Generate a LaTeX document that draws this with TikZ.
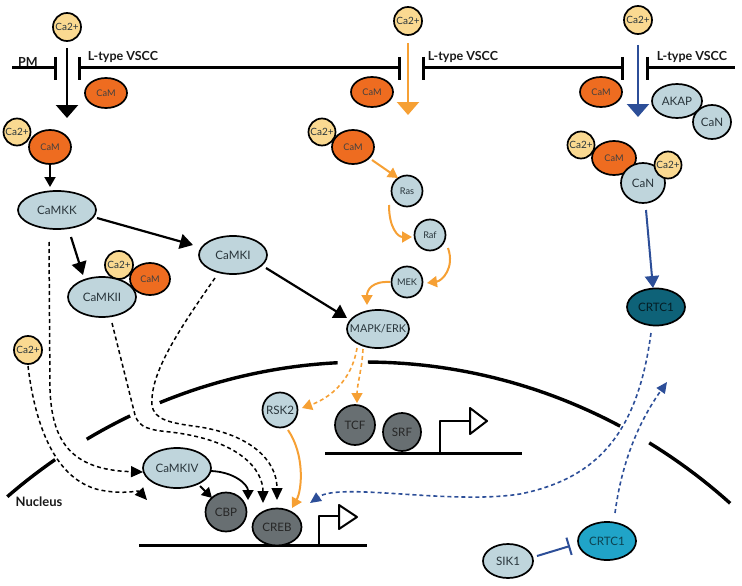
\documentclass[tikz,border=0pt]{standalone}
\usepackage{fontspec}
\setmainfont{Lato}
\usetikzlibrary{shapes.geometric,arrows.meta,calc}
\definecolor{caY}{RGB}{250,217,145}
\definecolor{camO}{RGB}{238,108,32}
\definecolor{lblue}{RGB}{191,213,220}
\definecolor{dgray}{RGB}{104,111,114}
\definecolor{crtcD}{RGB}{14,98,120}
\definecolor{crtcC}{RGB}{32,164,200}
\definecolor{orgA}{RGB}{246,160,52}
\definecolor{bluA}{RGB}{44,78,152}
\definecolor{txt}{RGB}{40,52,58}
\newcommand\zw[1]{\makebox[0pt]{#1}}
\begin{document}
\begin{tikzpicture}[x=1pt,y=-1pt,line join=round,
  base/.style={draw=black, line width=1.7pt, inner sep=0pt, outer sep=0pt, text=txt},
  ca/.style={base, circle, fill=caY, minimum size=#1, font=\fontsize{10}{12}\selectfont},
  ca/.default=28pt,
  ell/.style n args={2}{base, ellipse, minimum width=#1, minimum height=#2},
  kin/.style n args={2}{ell={#1}{#2}, fill=lblue, font=\fontsize{11.6}{13}\selectfont},
  cam/.style n args={2}{ell={#1}{#2}, fill=camO, text=black!75, font=\fontsize{9.2}{11}\selectfont},
  sml/.style={base, circle, fill=lblue, minimum size=31pt, font=\fontsize{9.2}{11}\selectfont},
  dkn/.style n args={2}{ell={#1}{#2}, fill=dgray, text=black!85, font=\fontsize{11.6}{13}\selectfont},
  lab/.style={inner sep=0pt, font=\bfseries\fontsize{12.5}{14}\selectfont, text=black!90},
  mem/.style={line width=3pt, line cap=butt},
  env/.style={line width=3.4pt, line cap=butt},
  chan/.style={line width=2.2pt, -{Triangle[width=22pt,length=13pt]}},
  blk/.style={draw=black, line width=2.2pt, -{Triangle[width=15pt,length=13pt]}},
  blks/.style={draw=black, line width=1.8pt, -{Triangle[width=11pt,length=10pt]}},
  org/.style={draw=orgA, line width=2pt, -{Triangle[width=11pt,length=10pt]}},
  orgd/.style={org, line width=1.6pt, dash pattern=on 4pt off 3pt},
  dsh/.style={draw=black, line width=1.5pt, dash pattern=on 4pt off 3pt, -{Triangle[width=11pt,length=12pt]}},
  blu/.style={draw=bluA, line width=2pt, -{Triangle[width=14pt,length=12pt]}},
  blud/.style={draw=bluA, line width=1.6pt, dash pattern=on 4pt off 3pt, -{Triangle[width=10pt,length=11pt]}}
]
\useasboundingbox (0,0) rectangle (742,586);
% plasma membrane
\draw[mem] (12,68) -- (55,68);
\draw[mem] (55,57) -- (55,80);
\draw[mem] (79,57) -- (79,80);
\draw[mem] (79,68) -- (399,68);
\draw[mem] (399,57) -- (399,80);
\draw[mem] (423,57) -- (423,80);
\draw[mem] (423,68) -- (622,68);
\draw[mem] (622,57) -- (622,80);
\draw[mem] (647,57) -- (647,80);
\draw[mem] (647,68) -- (735,68);
% nuclear envelope
\draw[env] plot[domain=129.7:123.6,samples=12] ({365+560*cos(\x)},{946-584*sin(\x)});
\draw[env] plot[domain=119.8:114.8,samples=12] ({365+560*cos(\x)},{946-584*sin(\x)});
\draw[env] plot[domain=111.5:92.8,samples=30] ({365+560*cos(\x)},{946-584*sin(\x)});
\draw[env] plot[domain=89.7:62.9,samples=30] ({365+560*cos(\x)},{946-584*sin(\x)});
\draw[env] plot[domain=59.5:49.3,samples=12] ({365+560*cos(\x)},{946-584*sin(\x)});
% DNA and promoters
\draw[mem] (139,545) -- (367,545);
\draw[line width=2.4pt] (319,545) -- (319,516) -- (339,516);
\draw[line width=2pt, fill=white] (339,505) -- (357,517) -- (339,529) -- cycle;
\draw[mem] (325,453) -- (522,453);
\draw[line width=2.4pt] (440,453) -- (440,421) -- (470,421);
\draw[line width=2pt, fill=white] (470,408) -- (487,421) -- (470,434) -- cycle;
% labels
\node[lab] (pm) at (28,62) {PM};
\node[lab] (lt1) at (123,57) {L-type VSCC};
\node[lab] (lt2) at (463,57) {L-type VSCC};
\node[lab] (lt3) at (692,57) {L-type VSCC};
\node[lab, font=\bfseries\fontsize{13}{15}\selectfont] (nuc) at (39,502) {Nucleus};
% top
\node[ca] (ca1) at (67,27) {\zw{Ca2+}};
\node[ca] (ca2) at (408,21) {\zw{Ca2+}};
\node[ca] (ca3) at (638,20) {\zw{Ca2+}};
\node[cam={42pt}{30pt}] (camL) at (106,93) {\zw{CaM}};
\node[cam={42pt}{30pt}] (camM) at (372,92) {\zw{CaM}};
\node[cam={42pt}{30pt}] (camR) at (601,92) {\zw{CaM}};
\node[kin={38pt}{34pt}] (canT) at (712,122) {\zw{CaN}};
\node[kin={50pt}{34pt}] (akap) at (677,101) {\zw{AKAP}};
\coordinate (chL) at (67,118);
\coordinate (chM) at (408,115);
\coordinate (chR) at (638,117);
% complexes
\node[ca=27pt] (caL2) at (17,132) {\zw{Ca2+}};
\node[cam={42pt}{34pt}] (cam1) at (50,147) {\zw{CaM}};
\node[ca=27pt] (caM2) at (322,132) {\zw{Ca2+}};
\node[cam={42pt}{34pt}] (cam2) at (353,147) {\zw{CaM}};
\node[ca=27pt] (caR2) at (581,145) {\zw{Ca2+}};
\node[cam={44pt}{34pt}] (cam3) at (614,158) {\zw{CaM}};
\node[kin={44pt}{40pt}] (canB) at (643,183) {\zw{CaN}};
\node[ca=27pt] (caR3) at (668,165) {\zw{Ca2+}};
% MAPK branch
\node[sml] (ras) at (407,191) {\zw{Ras}};
\node[sml] (raf) at (430,235) {\zw{Raf}};
\node[sml] (mek) at (407,282) {\zw{MEK}};
\node[kin={62pt}{38pt}, font=\fontsize{10.8}{12}\selectfont] (mapk) at (378,329) {\zw{MAPK/ERK}};
% CaMK branch
\node[kin={78pt}{38pt}] (camkk) at (57,210) {\zw{CaMKK}};
\node[kin={68pt}{38pt}] (camki) at (233,255) {\zw{CaMKI}};
\node[ca=28pt] (caK) at (119,265) {\zw{Ca2+}};
\node[cam={40pt}{32pt}] (camK) at (150,279) {\zw{CaM}};
\node[kin={68pt}{40pt}] (camkii) at (102,297) {\zw{CaMKII}};
\node[ca=28pt] (ca4) at (28,350) {\zw{Ca2+}};
% nucleus
\node[kin={68pt}{40pt}] (camkiv) at (177,468) {\zw{CaMKIV}};
\node[dkn={41pt}{39pt}] (cbp) at (226,512) {\zw{CBP}};
\node[dkn={49pt}{37pt}] (creb) at (277,527) {\zw{CREB}};
\node[kin={35pt}{35pt}] (rsk2) at (280,410) {\zw{RSK2}};
\node[dkn={40pt}{40pt}] (tcf) at (355,425) {\zw{TCF}};
\node[dkn={38pt}{38pt}] (srf) at (402,432) {\zw{SRF}};
% CRTC1
\node[ell={58pt}{37pt}, fill=crtcD, text=black!70!crtcD, font=\fontsize{11.6}{13}\selectfont] (crtcA) at (656,307) {\zw{CRTC1}};
\node[ell={58pt}{38pt}, fill=crtcC, text=black!60!crtcC, font=\fontsize{11.6}{13}\selectfont] (crtcB) at (607,541) {\zw{CRTC1}};
\node[kin={50pt}{34pt}] (sik) at (508,561) {\zw{SIK1}};
\coordinate (tipR) at (667,382);
% channel arrows
\draw[chan, draw=black] ($(ca1)+(0,21)$) -- (chL);
\draw[chan, draw=orgA] ($(ca2)+(0,22)$) -- (chM);
\draw[chan, draw=bluA] ($(ca3)+(0,25)$) -- (chR);
% black solid arrows
\draw[blks] ($(cam1)+(0,18)$) -- ($(camkk)+(-7,-23)$);
\draw[blk] ($(camkk)+(14,27)$) -- ($(camkii)+(-19,-22)$);
\draw[blk] ($(camkk)+(40,8)$) -- ($(camki)+(-40,-10)$);
\draw[blk] ($(camki)+(33,13)$) -- ($(mapk)+(-31,-11)$);
\draw[blks] ($(camkiv)+(23,18)$) -- ($(cbp)+(-14,-14)$);
\draw[blks] ($(camkiv)+(34,3)$) .. controls ($(camkiv)+(58,4)$) and ($(camkiv)+(71,17)$) .. ($(creb)+(-29,-27)$);
% orange
\draw[org] ($(cam2)+(19,13)$) -- ($(ras)+(-9,-13)$);
\draw[org] ($(ras)+(-18,14)$) .. controls ($(ras)+(-18,37)$) and ($(ras)+(-9,46)$) .. ($(raf)+(-18,2)$);
\draw[org] ($(raf)+(18,13)$) .. controls ($(raf)+(25,33)$) and ($(raf)+(12,46)$) .. ($(mek)+(20,1)$);
\draw[org] ($(mek)+(-17,0)$) .. controls ($(mek)+(-35,-1)$) and ($(mek)+(-40,8)$) .. ($(mapk)+(-11,-24)$);
\draw[orgd] ($(mapk)+(-21,19)$) .. controls ($(mapk)+(-26,51)$) and ($(mapk)+(-48,69)$) .. ($(rsk2)+(22,-2)$);
\draw[orgd] ($(mapk)+(-15,20)$) .. controls ($(mapk)+(-16,40)$) and ($(mapk)+(-21,56)$) .. ($(tcf)+(2,-22)$);
\draw[org] ($(rsk2)+(8,20)$) .. controls ($(rsk2)+(25,45)$) and ($(rsk2)+(22,80)$) .. ($(creb)+(15,-19)$);
% black dashed
\draw[dsh] ($(camkii)+(10,26)$) -- ($(camkii)+(33,118)$) .. controls ($(camkii)+(37,131)$) and ($(camkii)+(48,133)$) .. ($(camkii)+(68,135)$) .. controls ($(camkii)+(138,143)$) and ($(camkii)+(161,173)$) .. ($(creb)+(-14,-24)$);
\draw[dsh] ($(camki)+(-18,23)$) .. controls ($(camki)+(-58,80)$) and ($(camki)+(-83,120)$) .. ($(camki)+(-81,150)$) .. controls ($(camki)+(-79,165)$) and ($(camki)+(-63,168)$) .. ($(camki)+(-33,172)$) .. controls ($(camki)+(17,180)$) and ($(camki)+(44,205)$) .. ($(creb)+(0,-27)$);
\draw[dsh] ($(camkk)+(-8,32)$) -- ($(camkk)+(-7,180)$) .. controls ($(camkk)+(-5,230)$) and ($(camkk)+(13,260)$) .. ($(camkiv)+(-34,4)$);
\draw[dsh] ($(ca4)+(0,16)$) .. controls ($(ca4)+(7,75)$) and ($(ca4)+(27,130)$) .. ($(ca4)+(72,140)$) .. controls ($(ca4)+(97,145)$) and ($(ca4)+(110,140)$) .. ($(camkiv)+(-30,32)$);
% blue
\draw[blu] ($(canB)+(3,27)$) -- ($(crtcA)+(-3,-19)$);
\draw[blud] ($(crtcA)+(-5,26)$) .. controls ($(crtcA)+(-18,123)$) and ($(crtcA)+(-56,171)$) .. ($(crtcA)+(-136,187)$) .. controls ($(crtcA)+(-206,198)$) and ($(crtcA)+(-316,175)$) .. ($(creb)+(33,-24)$);
\draw[blud] ($(crtcB)+(8,-28)$) .. controls ($(crtcB)+(15,-81)$) and ($(crtcB)+(33,-121)$) .. (tipR);
\draw[draw=bluA, line width=2pt, -{Bar[width=18pt,line width=2pt]}] ($(sik)+(29,-5)$) -- ($(crtcB)+(-37,5)$);
\end{tikzpicture}
\end{document}
